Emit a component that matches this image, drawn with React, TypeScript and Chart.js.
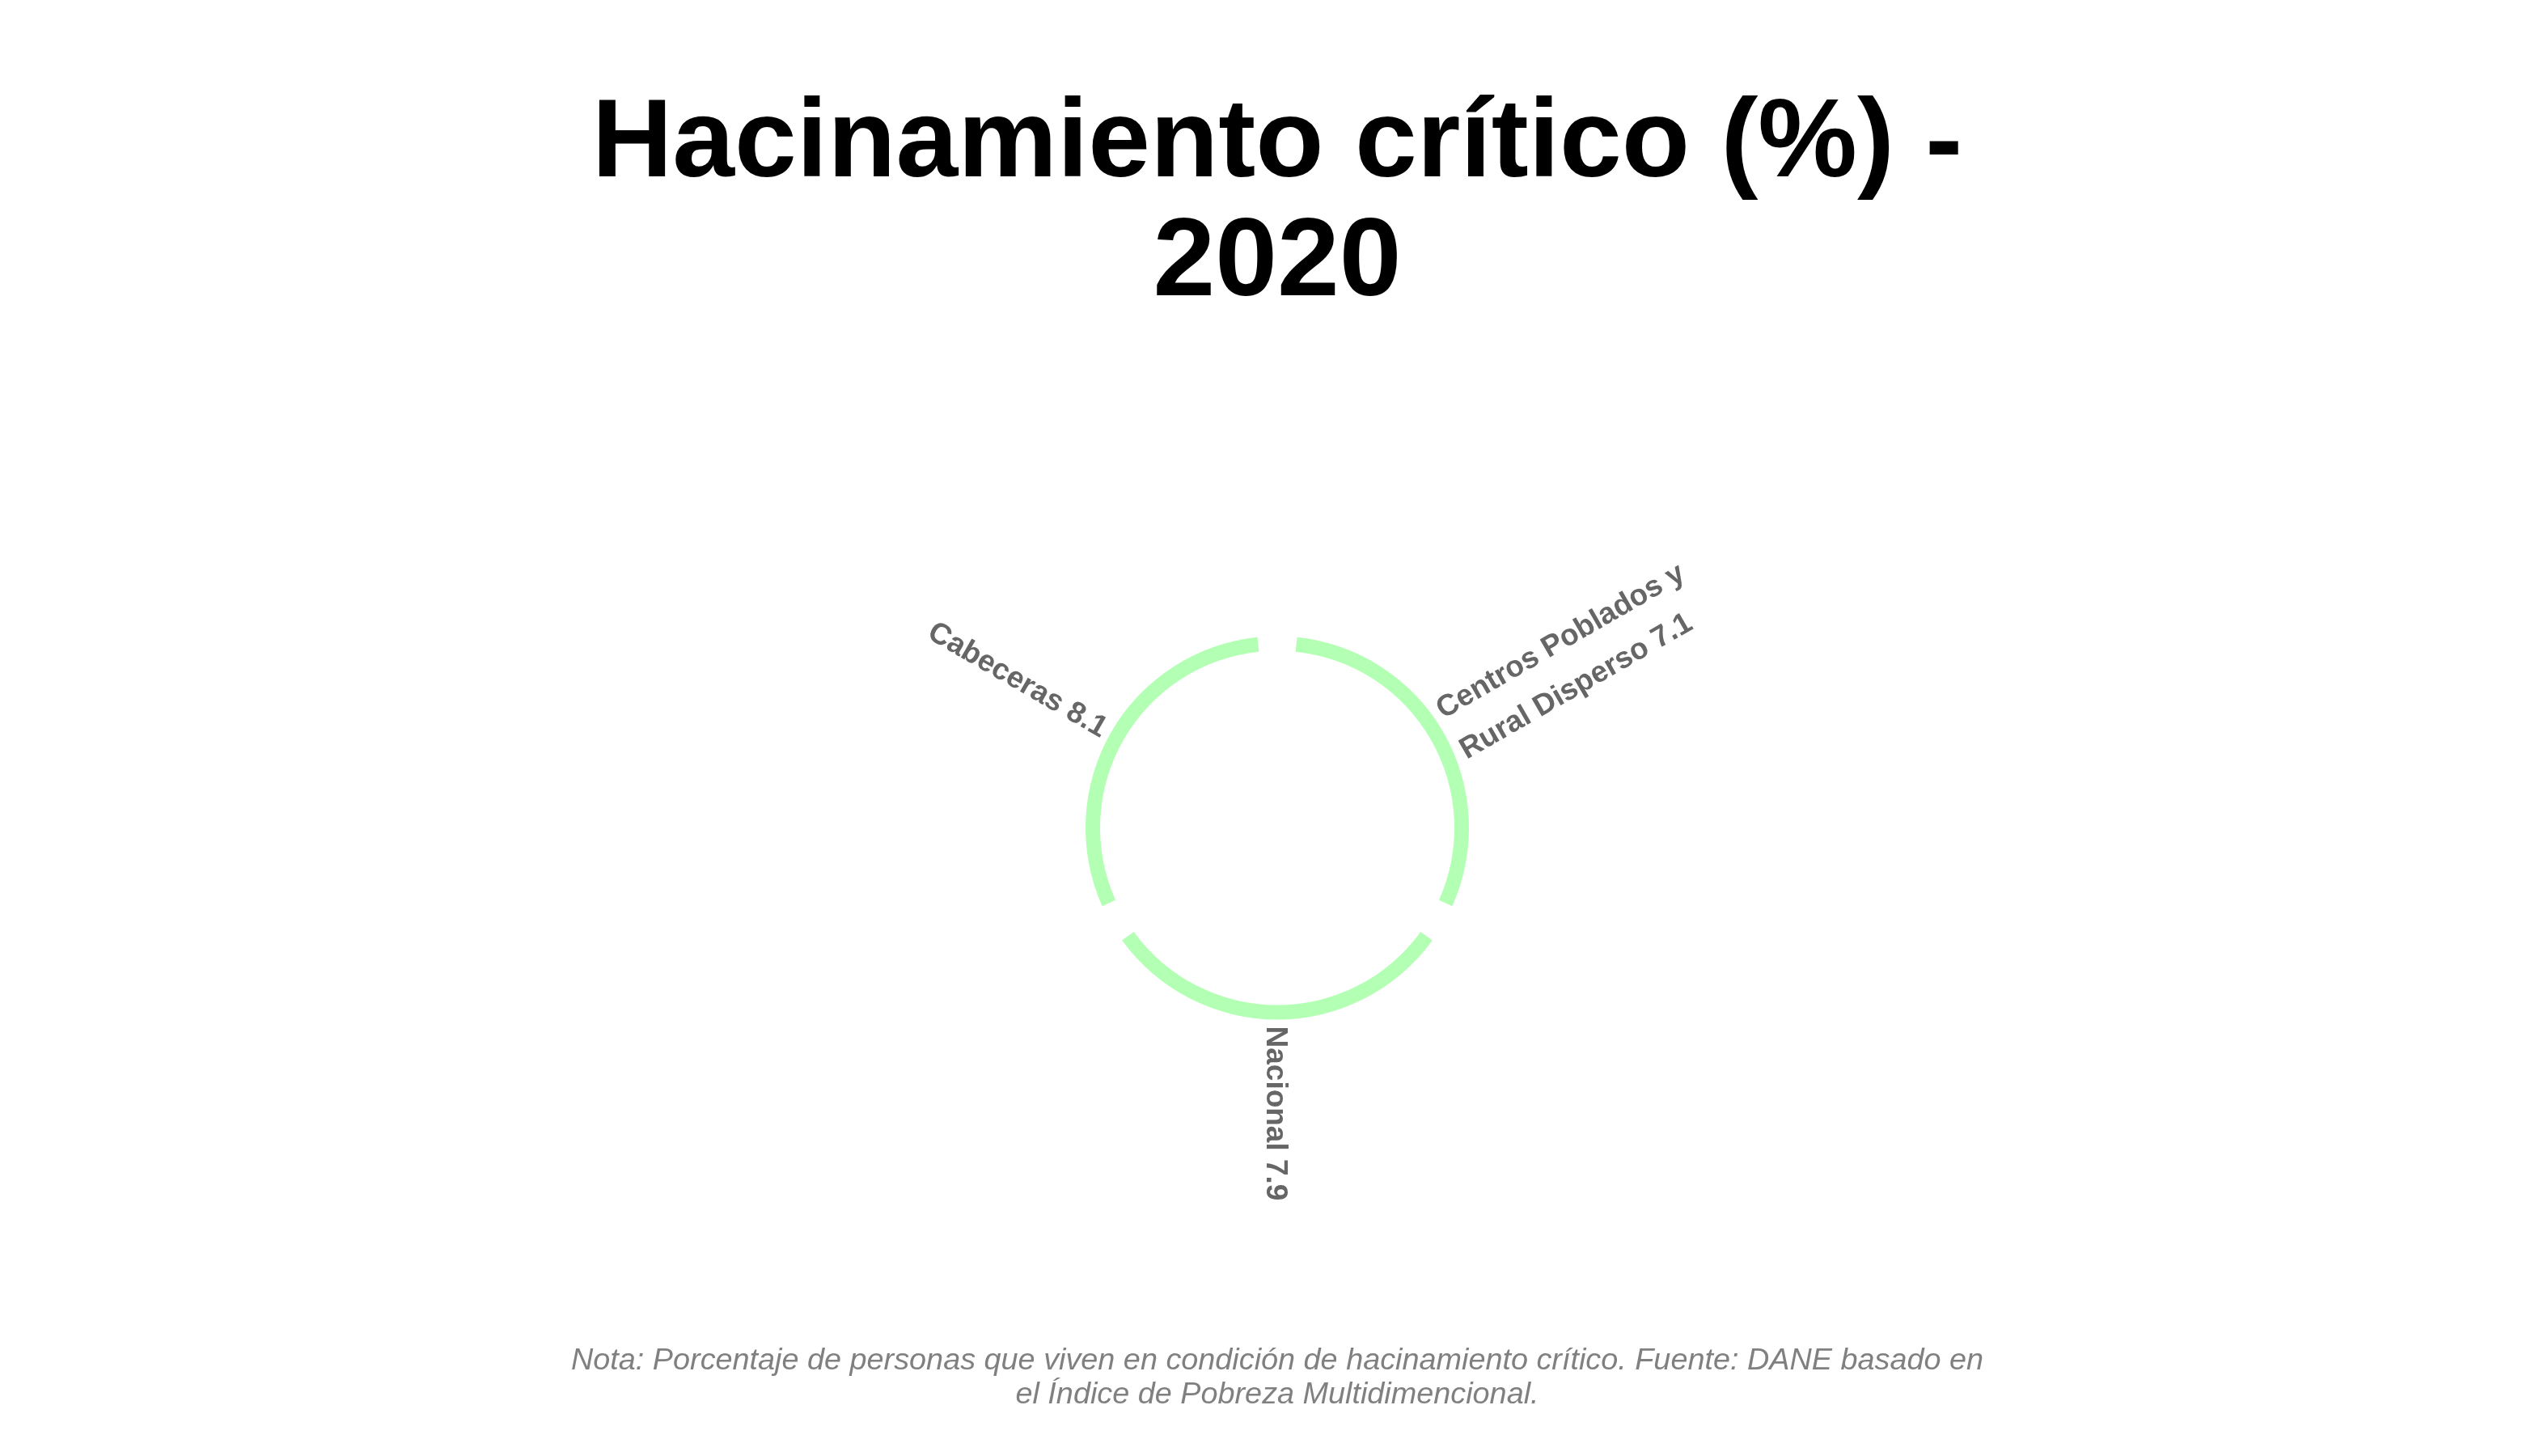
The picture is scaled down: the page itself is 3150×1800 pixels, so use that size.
import { useEffect, useRef } from "react";
import { Chart, registerables } from "chart.js";

Chart.register(...registerables);

// ---- data ----
const titleLines = ["Hacinamiento crítico (%) -", "2020"];
const categories = ["Centros Poblados y Rural Disperso", "Nacional", "Cabeceras"];
const values = [7.1, 7.9, 8.1];
// every category occupies an equal share of the ring in the reference
const categoryShare = [1, 1, 1];
const noteLines = [
  "Nota: Porcentaje de personas que viven en condición de hacinamiento crítico. Fuente: DANE basado en",
  "el Índice de Pobreza Multidimencional.",
];

const FONT = "'Liberation Sans', Arial, Helvetica, sans-serif";
const SPACING = 43;
const RING_COLOR = "rgb(179,255,179)";

function wrap(text: string, max: number): string[] {
  const words = text.split(" ");
  const out: string[] = [];
  let cur = "";
  for (const w of words) {
    const next = cur ? cur + " " + w : w;
    if (next.length > max && cur) {
      out.push(cur);
      cur = w;
    } else {
      cur = next;
    }
  }
  if (cur) out.push(cur);
  return out;
}

const labelPlugin = {
  id: "radialLabels",
  afterDatasetsDraw(chart: any) {
    const meta = chart.getDatasetMeta(0);
    const ctx = chart.ctx as CanvasRenderingContext2D;
    ctx.save();
    ctx.font = `bold 37px ${FONT}`;
    ctx.fillStyle = "#666666";
    meta.data.forEach((arc: any, i: number) => {
      const p = arc.getProps(["x", "y", "startAngle", "endAngle", "outerRadius"], true);
      let mid = (p.startAngle + p.endAngle) / 2;
      while (mid > Math.PI) mid -= 2 * Math.PI;
      while (mid < -Math.PI) mid += 2 * Math.PI;
      const r0 = p.outerRadius + SPACING / 2 + 8;
      const lines = wrap(`${categories[i]} ${values[i]}`, 18);
      const flip = Math.cos(mid) < -1e-6;
      ctx.save();
      ctx.translate(p.x, p.y);
      ctx.rotate(flip ? mid + Math.PI : mid);
      ctx.textAlign = flip ? "right" : "left";
      ctx.textBaseline = "alphabetic";
      const lh = 58;
      const n = lines.length;
      lines.forEach((ln, j) => {
        const by = 13 + (j - (n - 1) / 2) * lh + (n - 1) * 2;
        ctx.fillText(ln, flip ? -r0 : r0, by);
      });
      ctx.restore();
    });
    ctx.restore();
  },
};

export default function App() {
  const ref = useRef<HTMLCanvasElement | null>(null);
  useEffect(() => {
    if (!ref.current) return;
    const chart = new Chart(ref.current, {
      type: "doughnut",
      data: {
        labels: categories,
        datasets: [
          {
            data: categoryShare,
            backgroundColor: RING_COLOR,
            hoverBackgroundColor: RING_COLOR,
            borderWidth: 0,
            spacing: SPACING,
            radius: 237 - SPACING / 2,
            cutout: (((219 - SPACING / 2) / (237 - SPACING / 2)) * 100).toFixed(3) + "%",
          } as any,
        ],
      },
      options: {
        responsive: false,
        animation: false,
        layout: { padding: { left: 8, right: 0, top: 0, bottom: 0 } },
        plugins: {
          legend: { display: false },
          tooltip: { enabled: false },
          title: {
            display: true,
            text: titleLines,
            color: "#000000",
            font: { family: FONT, size: 138, weight: "bold", lineHeight: "147px" as any },
            padding: { top: 98.6, bottom: 0 },
          },
          subtitle: {
            display: true,
            position: "bottom",
            text: noteLines,
            color: "#808080",
            font: { family: FONT, size: 37.8, style: "italic", lineHeight: "42px" as any },
            padding: { top: 15, bottom: 46.6 },
          },
        },
      },
      plugins: [labelPlugin],
    });
    return () => chart.destroy();
  }, []);
  return (
    <div>
      <canvas ref={ref} width={3134} height={1784} style={{ display: "block", width: 3134, height: 1784 }} />
    </div>
  );
}
